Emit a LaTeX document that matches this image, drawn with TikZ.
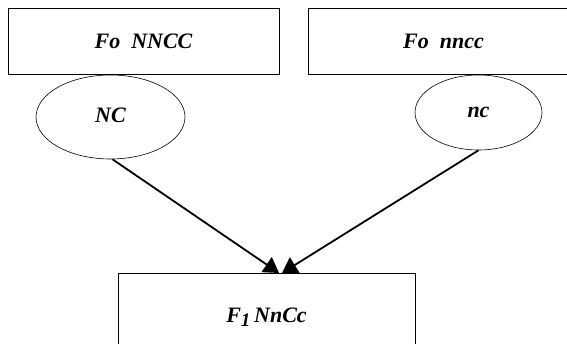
\documentclass[tikz,border=0pt]{standalone}
\usepackage{fontspec}
\setmainfont{Liberation Serif}
\usetikzlibrary{arrows.meta,shapes.geometric}
\begin{document}
\begin{tikzpicture}[x=1pt,y=-1pt,
  every node/.style={font=\fontsize{22}{26}\selectfont\bfseries\itshape},
  gambox/.style={draw=black,line width=0.8pt,minimum width=271pt,minimum height=66pt,inner sep=0pt},
  gamete/.style={draw=black,line width=0.6pt,ellipse,inner sep=0pt},
  cross/.style={line width=1.8pt,-{Triangle[length=15pt,width=18pt]}}]
\clip (0,0) rectangle (567,344);
\fill[white] (0,0) rectangle (567,344);
% parent boxes
\node[gambox] (p1) at (143.5,41) {Fo\ \ NNCC};
\node[gambox] (p2) at (443.5,41) {Fo\ \ nncc};
% gametes
\node[gamete,minimum width=149pt,minimum height=84pt] (g1) at (110.5,117) {\raisebox{3pt}{NC}};
\node[gamete,minimum width=127pt,minimum height=75pt] (g2) at (478.5,112.5) {nc};
% offspring box
\node[draw=black,line width=0.8pt,minimum width=297pt,minimum height=88pt,inner sep=0pt] (f1) at (266.5,317)
  {F\raisebox{-4pt}{\fontsize{19}{22}\selectfont 1}\,NnCc};
\coordinate (tl) at (279,273);
\coordinate (tr) at (282,273);
\draw[cross] (g1.south) ++(2,0) -- (tl);
\draw[cross] (g2.south) -- (tr);
\end{tikzpicture}
\end{document}
